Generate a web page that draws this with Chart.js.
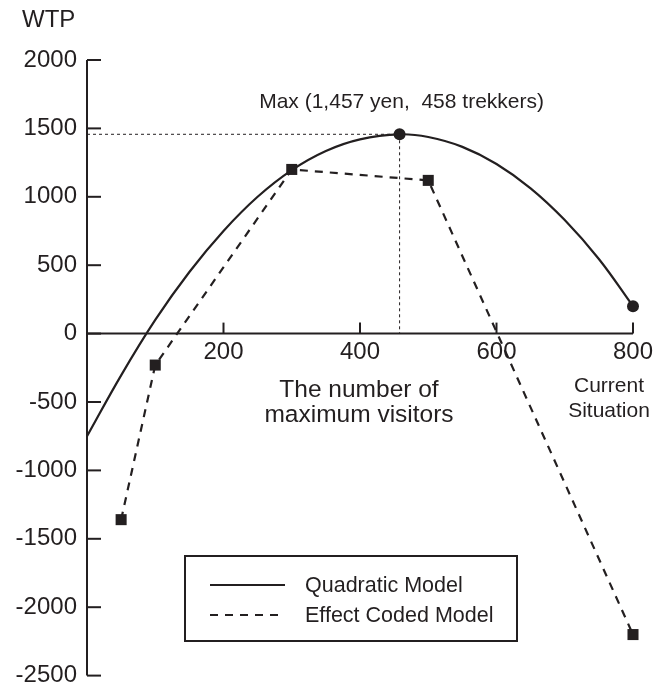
<!DOCTYPE html>
<html>
<head>
<meta charset="utf-8">
<script src="https://cdn.jsdelivr.net/npm/chart.js@4.4.1/dist/chart.umd.min.js"></script>
<style>
  html, body { margin: 0; padding: 0; background: #fff; }
  #wrap { width: 654px; height: 690px; }
</style>
</head>
<body>
<div id="wrap"><canvas id="wtpChart" width="654" height="690"></canvas></div>
<script>
// data
const quadX = [0, 50, 100, 150, 200, 250, 300, 350, 400, 458, 500, 550, 600, 650, 700, 750, 800];
const quadY = [-750, -305, 100, 450, 750, 1000, 1195, 1335, 1420, 1457, 1437, 1365, 1240, 1062, 830, 545, 200];
const effectX = [50, 100, 300, 500, 800];
const effectY = [-1360, -230, 1200, 1120, -2200];
const maxX = 458, maxY = 1457;
const currentX = 800, currentY = 200;
const xTicks = [200, 400, 600, 800];
const yTicks = [-2500, -2000, -1500, -1000, -500, 0, 500, 1000, 1500, 2000];

const ink = "#231f20";
const fontFam = "'Liberation Sans', Arial, Helvetica, sans-serif";

const toPoints = (xs, ys) => xs.map((x, i) => ({ x: x, y: ys[i] }));

// hand drawn axes, guide lines, notes and legend
const decor = {
  id: "decor",
  beforeDatasetsDraw(chart) {
    const ctx = chart.ctx;
    const xs = chart.scales.x, ys = chart.scales.y;
    const x0 = xs.getPixelForValue(0), y0 = ys.getPixelForValue(0);
    ctx.save();
    ctx.strokeStyle = ink;
    ctx.lineWidth = 2;
    // y axis
    ctx.beginPath();
    ctx.moveTo(x0, ys.getPixelForValue(2000));
    ctx.lineTo(x0, ys.getPixelForValue(-2500));
    ctx.stroke();
    yTicks.forEach(v => {
      const p = ys.getPixelForValue(v);
      ctx.beginPath();
      ctx.moveTo(x0, p);
      ctx.lineTo(x0 + 14, p);
      ctx.stroke();
    });
    // x axis at zero
    ctx.beginPath();
    ctx.moveTo(x0, y0);
    ctx.lineTo(xs.getPixelForValue(800), y0);
    ctx.stroke();
    xTicks.forEach(v => {
      const p = xs.getPixelForValue(v);
      ctx.beginPath();
      ctx.moveTo(p, y0);
      ctx.lineTo(p, y0 - 11);
      ctx.stroke();
    });
    // dotted guides to the maximum
    const px = xs.getPixelForValue(maxX), py = ys.getPixelForValue(maxY);
    ctx.lineWidth = 1;
    ctx.setLineDash([3, 3]);
    ctx.beginPath();
    ctx.moveTo(x0, py);
    ctx.lineTo(px, py);
    ctx.moveTo(px, py);
    ctx.lineTo(px, y0);
    ctx.stroke();
    ctx.restore();
  },
  afterDatasetsDraw(chart) {
    const ctx = chart.ctx;
    const xs = chart.scales.x;
    ctx.save();
    ctx.fillStyle = ink;
    ctx.textBaseline = "alphabetic";

    ctx.font = "24px " + fontFam;
    ctx.textAlign = "left";
    ctx.fillText("WTP", 22, 27);

    ctx.textAlign = "center";
    ctx.font = "21px " + fontFam;
    ctx.fillText("Max (1,457 yen,  458 trekkers)", xs.getPixelForValue(maxX) + 2, 108);

    ctx.font = "24.5px " + fontFam;
    ctx.fillText("The number of", 359, 397);
    ctx.fillText("maximum visitors", 359, 422);

    ctx.font = "21px " + fontFam;
    ctx.fillText("Current", 609, 392);
    ctx.fillText("Situation", 609, 417);

    // legend box
    ctx.strokeStyle = ink;
    ctx.lineWidth = 2;
    ctx.strokeRect(185, 556, 332, 85);
    ctx.beginPath();
    ctx.moveTo(210, 585);
    ctx.lineTo(285, 585);
    ctx.stroke();
    ctx.setLineDash([8, 7]);
    ctx.beginPath();
    ctx.moveTo(210, 615);
    ctx.lineTo(285, 615);
    ctx.stroke();
    ctx.setLineDash([]);
    ctx.textAlign = "left";
    ctx.font = "21.5px " + fontFam;
    ctx.fillText("Quadratic Model", 305, 592);
    ctx.fillText("Effect Coded Model", 305, 622);
    ctx.restore();
  }
};

new Chart(document.getElementById("wtpChart"), {
  type: "line",
  data: {
    datasets: [
      {
        label: "Quadratic Model",
        data: toPoints(quadX, quadY),
        borderColor: ink,
        borderWidth: 2.2,
        pointRadius: 0,
        tension: 0.4,
        clip: false
      },
      {
        label: "Effect Coded Model",
        data: toPoints(effectX, effectY),
        borderColor: ink,
        borderWidth: 2.2,
        borderDash: [8, 7],
        pointStyle: "rect",
        pointRadius: 7.8,
        pointBackgroundColor: ink,
        pointBorderWidth: 0,
        tension: 0,
        clip: false
      },
      {
        label: "Points",
        data: [{ x: maxX, y: maxY }, { x: currentX, y: currentY }],
        showLine: false,
        pointRadius: 6,
        pointBackgroundColor: ink,
        pointBorderWidth: 0,
        clip: false
      }
    ]
  },
  options: {
    responsive: false,
    animation: false,
    layout: { padding: { top: 60, right: 21, bottom: 14, left: 0 } },
    plugins: {
      legend: { display: false },
      tooltip: { enabled: false }
    },
    scales: {
      x: {
        type: "linear",
        min: 0,
        max: 800,
        position: { y: 0 },
        grid: { display: false, tickLength: 4 },
        border: { display: false },
        afterBuildTicks: s => { s.ticks = xTicks.map(v => ({ value: v })); },
        ticks: {
          color: ink,
          font: { size: 24, family: fontFam },
          padding: 0,
          maxRotation: 0,
          autoSkip: false,
          callback: v => String(v)
        }
      },
      y: {
        min: -2500,
        max: 2000,
        grid: { display: false, tickLength: 10 },
        border: { display: false },
        afterBuildTicks: s => { s.ticks = yTicks.map(v => ({ value: v })); },
        afterFit: s => { s.width = 87; },
        ticks: {
          color: ink,
          font: { size: 24, family: fontFam },
          padding: 0,
          autoSkip: false,
          callback: v => String(v)
        }
      }
    }
  },
  plugins: [decor]
});
</script>
</body>
</html>
